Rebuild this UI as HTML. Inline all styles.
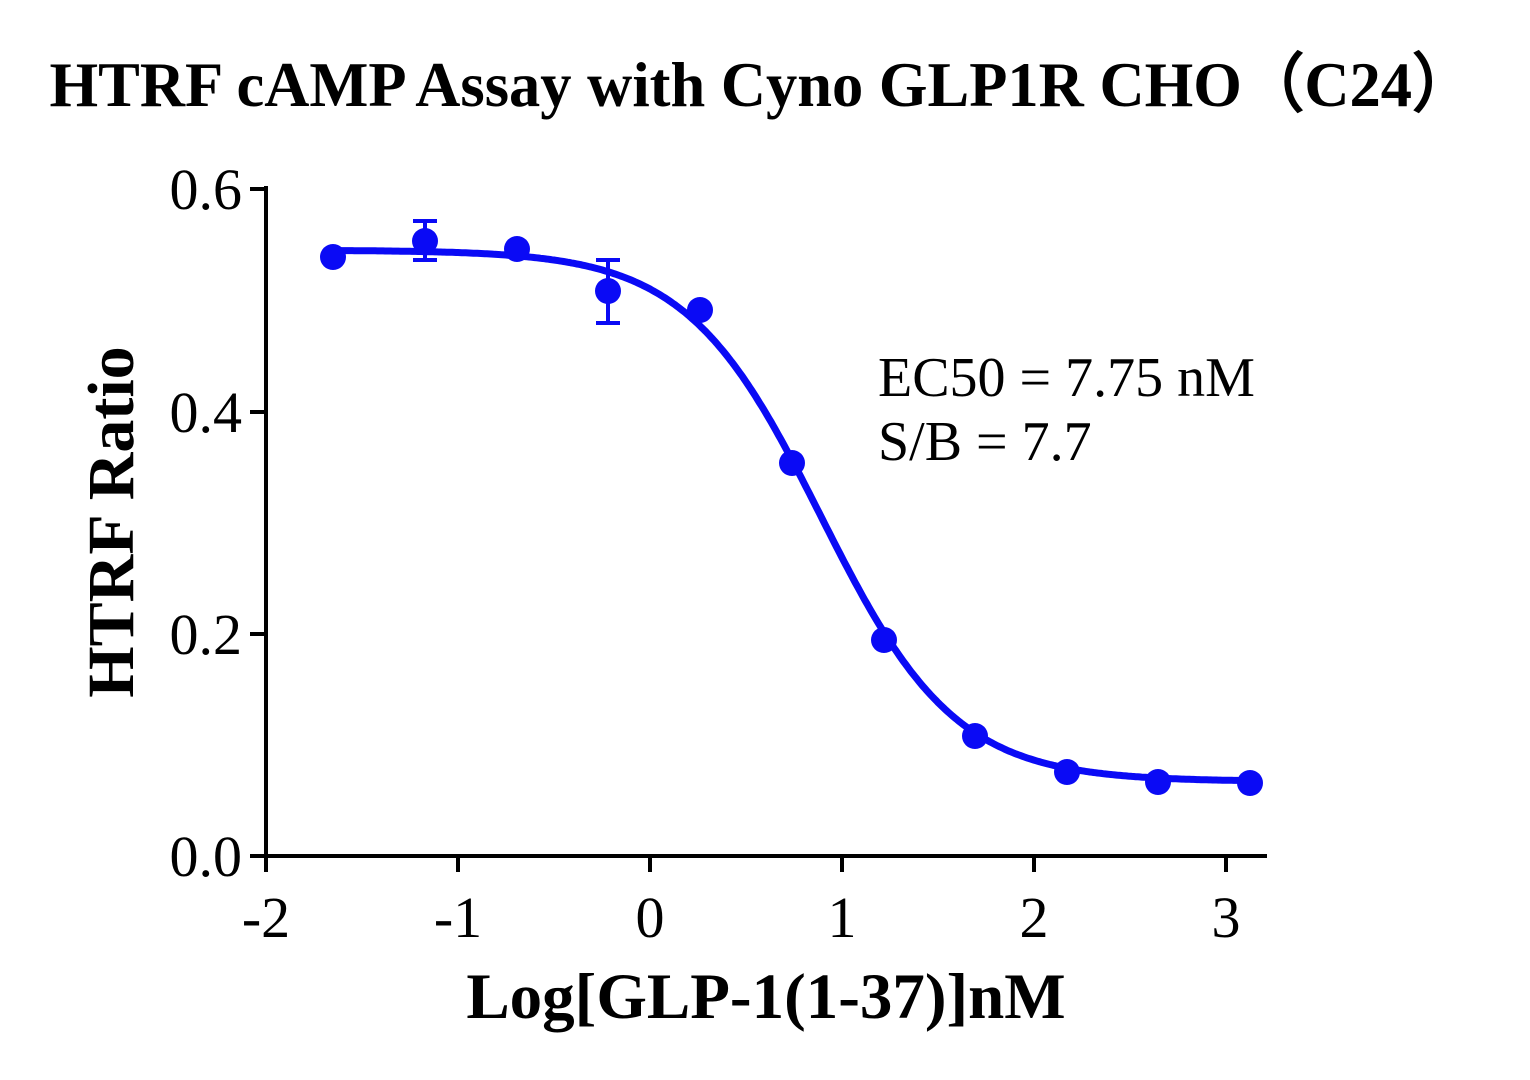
<!DOCTYPE html>
<html><head><meta charset="utf-8"><style>
html,body{margin:0;padding:0;background:#fff;}
svg{display:block;font-family:"Liberation Serif",serif;}
</style></head><body>
<svg id="s" width="1530" height="1080" viewBox="0 0 1530 1080" xmlns="http://www.w3.org/2000/svg">
<text x="762" y="106" text-anchor="middle" font-size="64" font-weight="bold" textLength="1425" lengthAdjust="spacingAndGlyphs">HTRF cAMP Assay with Cyno GLP1R CHO（C24）</text>
<g stroke="#000" stroke-width="4" fill="none">
<line x1="266" y1="186" x2="266" y2="858"/>
<line x1="264" y1="856" x2="1267" y2="856"/>
<line x1="250" y1="189" x2="266" y2="189"/>
<line x1="250" y1="412" x2="266" y2="412"/>
<line x1="250" y1="634" x2="266" y2="634"/>
<line x1="250" y1="856" x2="266" y2="856"/>
<line x1="266" y1="856" x2="266" y2="872"/>
<line x1="458" y1="856" x2="458" y2="872"/>
<line x1="650" y1="856" x2="650" y2="872"/>
<line x1="842" y1="856" x2="842" y2="872"/>
<line x1="1034" y1="856" x2="1034" y2="872"/>
<line x1="1226" y1="856" x2="1226" y2="872"/>
</g>
<g font-size="58" text-anchor="end">
<text x="242" y="209">0.6</text><text x="242" y="432">0.4</text>
<text x="242" y="654">0.2</text><text x="242" y="876">0.0</text>
</g>
<g font-size="58" text-anchor="middle">
<text x="266" y="937">-2</text><text x="458" y="937">-1</text><text x="650" y="937">0</text>
<text x="842" y="937">1</text><text x="1034" y="937">2</text><text x="1226" y="937">3</text>
</g>
<text x="766" y="1018" text-anchor="middle" font-size="65" font-weight="bold">Log[GLP-1(1-37)]nM</text>
<text transform="translate(133,522) rotate(-90)" text-anchor="middle" font-size="66" font-weight="bold">HTRF Ratio</text>
<text x="878" y="396" font-size="56">EC50 = 7.75 nM</text>
<text x="878" y="460" font-size="56">S/B = 7.7</text>
<g id="d" fill="#0a0af5" stroke="#0a0af5"></g>
</svg>
<script>
var X=function(v){return 650+192*v};
var Y=function(v){return 856-v*(856-189)/0.6};
var T=0.545,B=0.067,C=0.889,H=1.24,p="";
for(var x=-1.65;x<=3.131;x+=0.01){var y=B+(T-B)/(1+Math.pow(10,H*(x-C)));p+=(p?"L":"M")+X(x).toFixed(1)+","+Y(y).toFixed(1);}
var g=document.getElementById("d"),h='<path d="'+p+'" fill="none" stroke-width="7"/>';
[[333,257],[425,241],[517,249],[608,291],[700,310],[792,463],[884,640],[975,736],[1067,772],[1158,782],[1250,783]].forEach(function(q){h+='<circle cx="'+q[0]+'" cy="'+q[1]+'" r="13" stroke="none"/>';});
[[425,221,260],[608,260,323]].forEach(function(e){h+='<g stroke-width="4"><line x1="'+e[0]+'" y1="'+e[1]+'" x2="'+e[0]+'" y2="'+e[2]+'"/><line x1="'+(e[0]-12)+'" y1="'+e[1]+'" x2="'+(e[0]+12)+'" y2="'+e[1]+'"/><line x1="'+(e[0]-12)+'" y1="'+e[2]+'" x2="'+(e[0]+12)+'" y2="'+e[2]+'"/></g>';});
g.innerHTML=h;
</script>
</body></html>
